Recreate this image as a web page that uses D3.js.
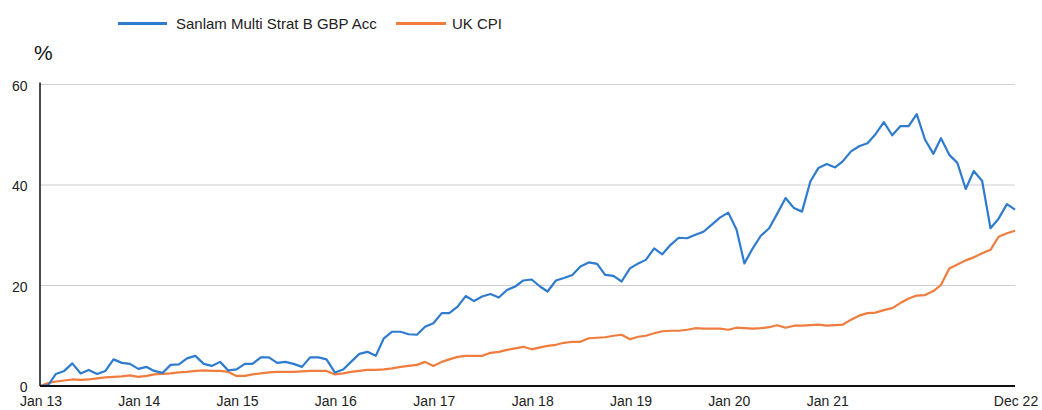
<!DOCTYPE html>
<html>
<head>
<meta charset="utf-8">
<script src="https://cdn.jsdelivr.net/npm/d3@7"></script>
<style>
  html, body { margin: 0; padding: 0; background: #fff; }
  svg { display: block; font-family: "Liberation Sans", Arial, sans-serif; }
</style>
</head>
<body>
<svg id="chart" width="1042" height="410"></svg>
<script>
const seriesNames = ["Sanlam Multi Strat B GBP Acc", "UK CPI"];
const startMonth = "2013-01";
const fundValues = [
  0, 0.2, 2.4, 3.0, 4.5, 2.5, 3.2, 2.4, 3.0, 5.3, 4.6, 4.4,
  3.4, 3.8, 3.0, 2.6, 4.2, 4.3, 5.5, 6.0, 4.4, 4.0, 4.8, 3.1,
  3.3, 4.4, 4.4, 5.7, 5.7, 4.6, 4.8, 4.4, 3.8, 5.7, 5.7, 5.3,
  2.7, 3.3, 4.8, 6.4, 6.8, 6.0, 9.5, 10.8, 10.8, 10.3, 10.2, 11.8,
  12.5, 14.5, 14.5, 15.8, 17.9, 16.9, 17.8, 18.3, 17.6, 19.1, 19.8, 21.0,
  21.2, 19.8, 18.8, 21.0, 21.5, 22.1, 23.8, 24.6, 24.3, 22.1, 21.9, 20.8,
  23.4, 24.4, 25.1, 27.4, 26.2, 28.1, 29.5, 29.4, 30.1, 30.7, 32.1, 33.5,
  34.5, 31.1, 24.4, 27.4, 29.9, 31.4, 34.3, 37.4, 35.4, 34.7, 40.7, 43.4,
  44.2, 43.5, 44.7, 46.7, 47.7, 48.3, 50.1, 52.5, 49.9, 51.7, 51.7, 54.1,
  49.0, 46.2, 49.3, 46.0, 44.4, 39.2, 42.8, 40.8, 31.4, 33.3, 36.2, 35.1
];
const cpiValues = [
  0, 0.6, 0.9, 1.1, 1.3, 1.2, 1.3, 1.5, 1.7, 1.8, 1.9, 2.1,
  1.8, 2.0, 2.3, 2.4, 2.5, 2.7, 2.8, 3.0, 3.1, 3.0, 3.0, 2.8,
  2.0, 2.0, 2.3, 2.5, 2.7, 2.8, 2.8, 2.8, 2.9, 3.0, 3.0, 3.0,
  2.3, 2.5, 2.8, 3.0, 3.2, 3.2, 3.3, 3.5, 3.8, 4.0, 4.2, 4.8,
  4.0, 4.8, 5.3, 5.8, 6.0, 6.0, 6.0, 6.6, 6.8, 7.2, 7.5, 7.8,
  7.3, 7.7, 8.0, 8.2, 8.6, 8.8, 8.8, 9.5, 9.6, 9.7, 10.0, 10.2,
  9.3, 9.8, 10.0, 10.5, 10.9, 11.0, 11.0, 11.2, 11.5, 11.4, 11.4, 11.4,
  11.2, 11.6, 11.5, 11.4, 11.5, 11.7, 12.1, 11.6, 12.0, 12.0, 12.1, 12.2,
  12.0, 12.1, 12.2, 13.2, 14.0, 14.5, 14.6, 15.1, 15.5, 16.5, 17.4, 18.0,
  18.1, 18.9, 20.1, 23.4, 24.2, 25.0, 25.6, 26.4, 27.1, 29.7, 30.4, 30.9
];
const xTickLabels = ["Jan 13","Jan 14","Jan 15","Jan 16","Jan 17","Jan 18","Jan 19","Jan 20","Jan 21","Dec 22"];
const xTickDates = ["2013-01","2014-01","2015-01","2016-01","2017-01","2018-01","2019-01","2020-01","2021-01","2022-12"];
const yTicks = [0, 20, 40, 60];
const yLabel = "%";

(function draw() {
  const parse = d3.timeParse("%Y-%m");
  const t0 = parse(startMonth);
  const months = fundValues.map((_, i) => d3.timeMonth.offset(t0, i));

  const svg = d3.select("#chart");
  const pL = 40, pR = 1015, pT = 84.5, pB = 386;
  const x = d3.scaleTime().domain([months[0], months[months.length - 1]]).range([pL, pR]);
  const y = d3.scaleLinear().domain([0, 60]).range([pB, pT]);

  // gridlines
  svg.append("g").selectAll("line").data(yTicks.filter(v => v > 0)).join("line")
    .attr("x1", pL).attr("x2", pR)
    .attr("y1", d => y(d)).attr("y2", d => y(d))
    .attr("stroke", "#d0d0d0").attr("stroke-width", 1.2);

  // y tick labels
  svg.append("g").selectAll("text").data(yTicks).join("text")
    .attr("x", 27.5).attr("y", d => y(d) + 6)
    .attr("text-anchor", "end")
    .attr("font-size", 14).attr("fill", "#222")
    .text(d => d);

  // x tick labels
  svg.append("g").selectAll("text").data(xTickDates).join("text")
    .attr("x", d => x(parse(d)) + 1).attr("y", 406)
    .attr("text-anchor", "middle")
    .attr("font-size", 14).attr("fill", "#222")
    .text((d, i) => xTickLabels[i]);

  // % label
  svg.append("text").attr("x", 34).attr("y", 60)
    .attr("font-size", 21).attr("fill", "#111").text(yLabel);

  const line = d3.line().x((d, i) => x(months[i])).y(d => y(d));

  svg.append("path").datum(cpiValues)
    .attr("fill", "none").attr("stroke", "#F07C3E").attr("stroke-width", 2.2)
    .attr("stroke-linejoin", "round").attr("d", line);
  svg.append("path").datum(fundValues)
    .attr("fill", "none").attr("stroke", "#2E7BCF").attr("stroke-width", 2.2)
    .attr("stroke-linejoin", "round").attr("d", line);

  // axes lines
  svg.append("line").attr("x1", pL).attr("x2", pL).attr("y1", pT - 2).attr("y2", pB)
    .attr("stroke", "#111").attr("stroke-width", 1.5);
  svg.append("line").attr("x1", pL).attr("x2", pR).attr("y1", pB).attr("y2", pB)
    .attr("stroke", "#111").attr("stroke-width", 2);

  // legend
  const legend = [
    { name: seriesNames[0], color: "#2E7BCF", x1: 118, x2: 167, tx: 176 },
    { name: seriesNames[1], color: "#F07C3E", x1: 396, x2: 446, tx: 452 }
  ];
  const lg = svg.append("g");
  legend.forEach(l => {
    lg.append("line").attr("x1", l.x1).attr("x2", l.x2).attr("y1", 23.5).attr("y2", 23.5)
      .attr("stroke", l.color).attr("stroke-width", 3);
    lg.append("text").attr("x", l.tx).attr("y", 28.5).attr("font-size", 15)
      .attr("fill", "#222").text(l.name);
  });
})();
</script>
</body>
</html>
